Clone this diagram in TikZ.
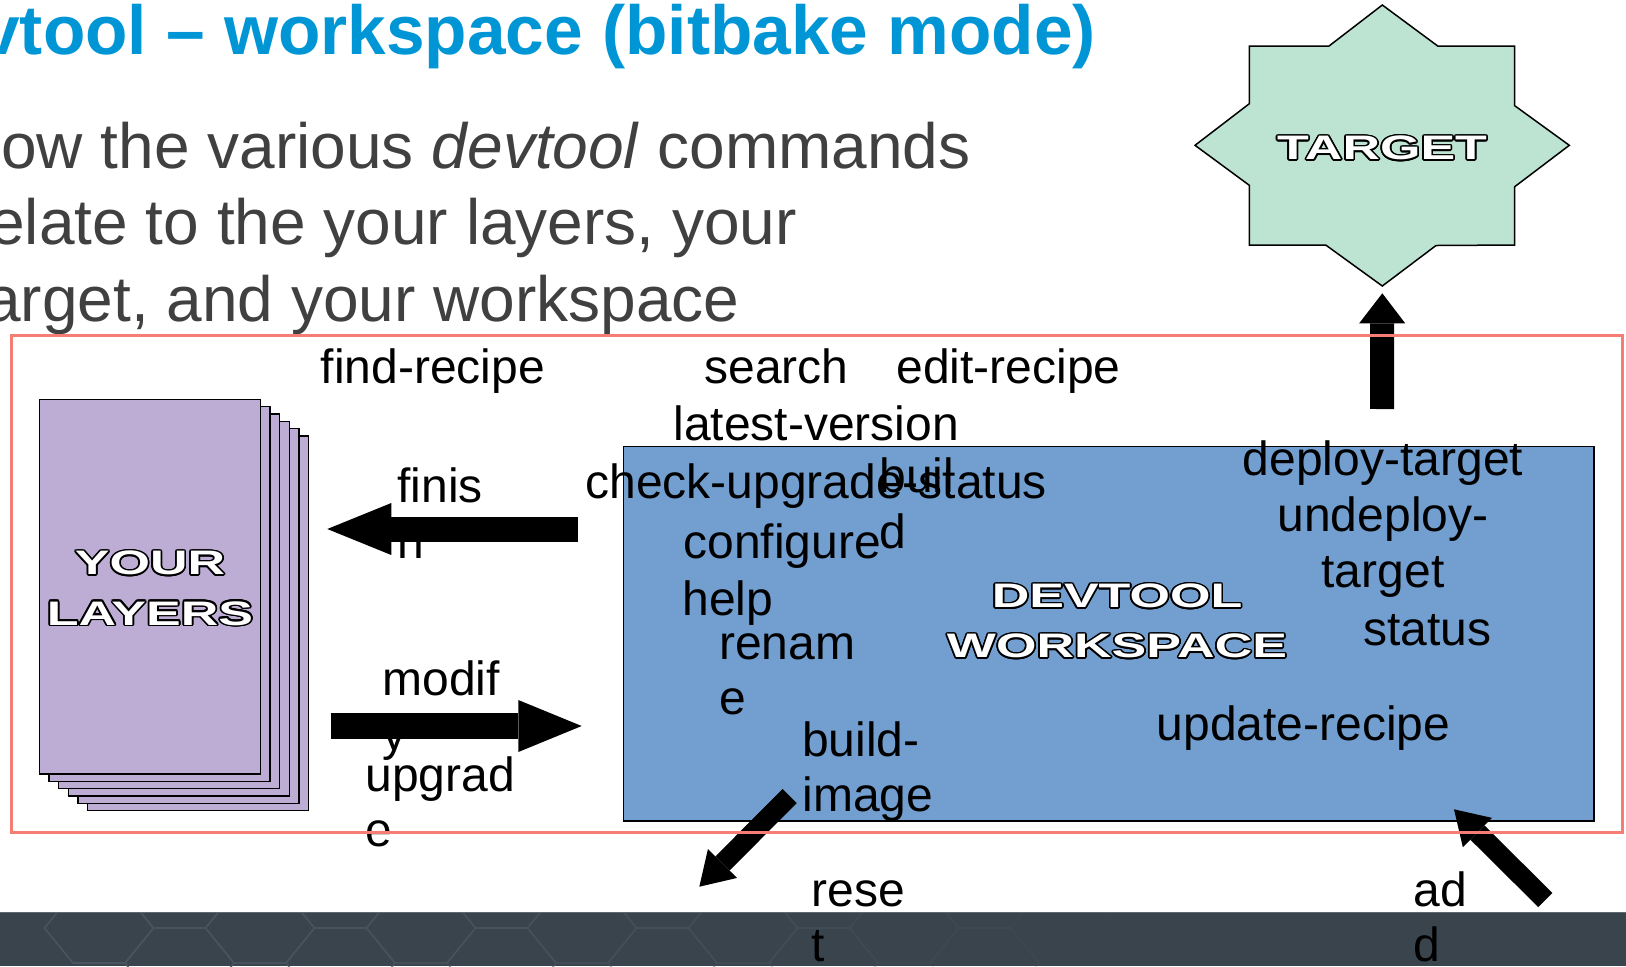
\documentclass[tikz,border=0pt]{standalone}
\usepackage{fontspec}
\setmainfont{Liberation Sans}
\newfontfamily\widefont[FakeStretch=1.53]{Liberation Sans}
\usepackage{contour}
\contourlength{0.85pt}
\usetikzlibrary{arrows.meta}
\definecolor{titleblue}{RGB}{0,150,214}
\definecolor{bodygray}{RGB}{64,64,64}
\definecolor{lav}{RGB}{189,173,212}
\definecolor{mint}{RGB}{189,227,210}
\definecolor{wsblue}{RGB}{114,159,207}
\definecolor{hl}{RGB}{245,125,115}
\definecolor{barcol}{RGB}{58,68,77}
\definecolor{hexline}{RGB}{74,84,94}
\definecolor{barline}{RGB}{95,105,115}
\begin{document}
\begin{tikzpicture}[x=0.5pt,y=-0.5pt,
  lbl/.style={anchor=base west, inner sep=0pt, font=\fontsize{24}{27.5}\selectfont, text=black},
  lblc/.style={lbl, anchor=base},
  body/.style={anchor=base west, inner sep=0pt, font=\fontsize{32}{38.4}\selectfont, text=bodygray},
  outl/.style={anchor=base, inner sep=0pt, text=white, font=\widefont\bfseries\fontsize{17}{20}\selectfont},
  sheet/.style={draw=black, fill=lav, line width=0.7pt},
  starsty/.style={draw=black, fill=mint, line width=0.75pt, line join=miter},
  wsbox/.style={draw=black, fill=wsblue, line width=0.7pt, inner sep=0pt},
  blk/.style args={#1/#2/#3}{draw=black, line width=#1, -{Triangle[length=#2,width=#3,line width=0pt]}},
  hexl/.style={draw=hexline, line width=0.8pt},
]
\useasboundingbox (0,0) rectangle (1626,966);

% bottom bar
\fill[barcol] (0,912) rectangle (1626,966);
\begin{scope}
\clip (0,912) rectangle (1626,966);
\foreach \k in {0,2,...,12} {
  \draw[hexl, opacity={max(0,1-\k/13)}] ({99+80.5*\k-54.5},928) -- ++(28.5,-35) -- ++(52,0) -- ++(28.5,35) -- ++(-28.5,35) -- ++(-52,0) -- cycle;
}
\foreach \k in {1,3,...,11} {
  \draw[hexl, opacity={max(0,1-\k/13)}] ({99+80.5*\k-54.5},893) -- ++(28.5,-35) -- ++(52,0) -- ++(28.5,35) -- ++(-28.5,35) -- ++(-52,0) -- cycle;
  \draw[hexl, opacity={max(0,1-\k/13)}] ({99+80.5*\k-54.5},963) -- ++(28.5,-35) -- ++(52,0) -- ++(28.5,35) -- ++(-28.5,35) -- ++(-52,0) -- cycle;
}
\end{scope}
\draw[barline, line width=0.5pt] (0,912.5) -- (1626,912.5);

% title and body text
\node[anchor=base west, inner sep=0pt, text=titleblue, font=\bfseries\fontsize{34.7}{40}\selectfont] (title) at (-19,54) {vtool – workspace (bitbake mode)};
\node[body] (line1) at (1,168) {ow the various \textit{devtool} commands};
\node[body] (line2) at (-11,244.7) {elate to the your layers, your};
\node[body] (line3) at (-15,321.5) {arget, and your workspace};

% target star
\draw[starsty] (1382.3,5) -- (1437.7,46) -- (1514.7,46) -- (1514.7,105.7) -- (1569.3,145.3) -- (1514.7,186.7) -- (1514.7,245) -- (1436,245.5) -- (1382.3,286) -- (1325.7,245) -- (1249.3,245) -- (1249.3,185.3) -- (1195,145.3) -- (1249.3,103.7) -- (1249.3,46) -- (1329,46) -- cycle;
\coordinate (startip) at (1382.3,293.3);
\node[outl] (target) at (1382,159.7) {\contour{black}{TARGET}};

% layers stack
\foreach \i in {5,4,3,2,1} \draw[sheet] ({39.4+9.6*\i},{399.3+7.3*\i}) rectangle ++(221,374.7);
\node[sheet, minimum width=110.5pt, minimum height=187.35pt, inner sep=0pt] (layers) at (149.9,586.65) {};
\node[outl] (your) at (150,574.7) {\contour{black}{YOUR}};
\node[outl] (layerstxt) at (150,625) {\contour{black}{LAYERS}};

% workspace
\node[wsbox, minimum width=485.35pt, minimum height=187.25pt] (ws) at (1108.65,633.75) {};
\node[outl] (devtool) at (1117,607.7) {\contour{black}{DEVTOOL}};
\node[outl] (workspace) at (1117,657.7) {\contour{black}{WORKSPACE}};

% command labels
\node[lbl] (findrecipe) at (320.5,383.7) {find-recipe};
\node[lbl] (search) at (704,383.7) {search};
\node[lbl] (editrecipe) at (896,383.7) {edit-recipe};
\node[lbl] (latest) at (673,440.7) {latest-version};
\node[lbl] (finisa) at (397,502.7) {finis};
\node[lbl] (finisb) at (397,558) {h};
\node[lbl] (modifa) at (382,695) {modif};
\node[lbl] (modifb) at (382,750) {y};
\node[lbl] (upga) at (365,791.7) {upgrad};
\node[lbl] (upgb) at (365,846.7) {e};
\node[lbl] (checkup) at (585,498) {check-upgrade-status};
\node[lbl] (build1) at (879,492.7) {buil};
\node[lbl] (build2) at (879,548) {d};
\node[lbl] (configure) at (683,558.3) {configure};
\node[lbl] (help) at (682,615) {help};
\node[lbl] (rename1) at (718.7,659.5) {renam};
\node[lbl] (rename2) at (718.7,714.5) {e};
\node[lbl] (bimg1) at (801.7,756.7) {build-};
\node[lbl] (bimg2) at (802,811.7) {image};
\node[lbl] (reset1) at (811,906.7) {rese};
\node[lbl] (reset2) at (811,961.7) {t};
\node[lblc] (deploy) at (1383,475) {deploy-target};
\node[lblc] (undeploy1) at (1383,531) {undeploy-};
\node[lblc] (undeploy2) at (1383,587) {target};
\node[lbl] (status) at (1362.7,645) {status};
\node[lbl] (update) at (1156.4,740.4) {update-recipe};
\node[lbl] (add1) at (1413,906.7) {ad};
\node[lbl] (add2) at (1413,961.7) {d};

% arrows
\coordinate (fintail) at (578.3,529);
\coordinate (fintip) at (327.3,529);
\draw[blk=12.5pt/32pt/26pt] (fintail) -- (fintip);
\coordinate (modtail) at (330.7,726);
\coordinate (modtip) at (581.7,726);
\draw[blk=13pt/31.7pt/26pt] (modtail) -- (modtip);
\coordinate (uptail) at (1382,409);
\draw[blk=12pt/15pt/23pt] (uptail) -- (startip);
\coordinate (bitail) at (789.7,796);
\coordinate (bitip) at (699.3,886.7);
\draw[blk=10pt/16.4pt/20.5pt] (bitail) -- (bitip);
\coordinate (addtail) at (1545.3,900);
\coordinate (addtip) at (1454,809.3);
\draw[blk=10pt/16.5pt/20.7pt] (addtail) -- (addtip);

% highlight frame
\draw[hl, line width=1.5pt] (11.3,335.8) rectangle (1622,832.5);
\end{tikzpicture}
\end{document}
